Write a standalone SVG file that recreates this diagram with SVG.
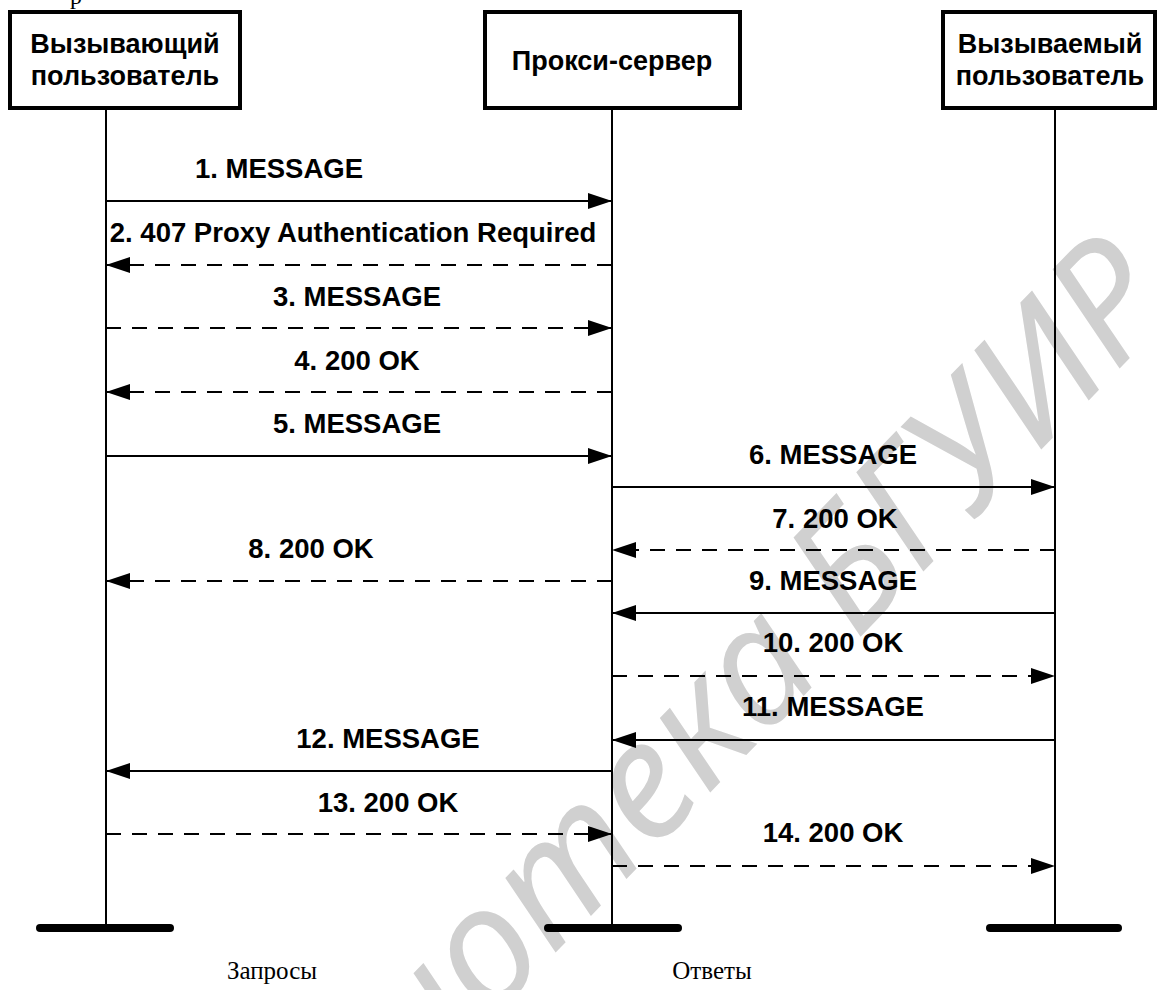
<svg xmlns="http://www.w3.org/2000/svg" width="1161" height="990" viewBox="0 0 1161 990">
<style>
.box{fill:#fff;stroke:#000;stroke-width:4}
.hdr{font-family:"Liberation Sans",Arial,sans-serif;font-weight:bold;font-size:27px;text-anchor:middle;fill:#000}
.lbl{font-family:"Liberation Sans",Arial,sans-serif;font-weight:bold;font-size:27.5px;text-anchor:middle;fill:#000}
.life{stroke:#000;stroke-width:2;fill:none}
.bar{stroke:#000;stroke-width:8;stroke-linecap:round}
.msg{stroke:#000;stroke-width:2;fill:none;marker-end:url(#ah)}
.dash{stroke-dasharray:15 11}
.cap{font-family:"Liberation Serif","Times New Roman",serif;font-size:25px;text-anchor:middle;fill:#000}
.wm{font-family:"Noto Sans","Liberation Sans",sans-serif;font-style:italic;font-size:164px;fill:#d0d0d0;text-anchor:end}
</style>
<defs>
<marker id="ah" viewBox="0 0 24 16" refX="24" refY="8" markerWidth="24" markerHeight="16" orient="auto" markerUnits="userSpaceOnUse">
<path d="M0,0 L24,8 L0,16 Z" fill="#000"/>
</marker>
</defs>
<rect width="1161" height="990" fill="#fff"/>
<g id="watermark">
<text class="wm" transform="translate(1178,308) rotate(-46)">Библиотека БГУИР</text>
</g>
<text x="70" y="4" font-family="Liberation Serif, serif" font-size="24">р</text>
<g id="lifelines">
<line class="life" x1="106" y1="108" x2="106" y2="928"/>
<line class="life" x1="612" y1="108" x2="612" y2="928" stroke-width="2.5"/>
<line class="life" x1="1055" y1="108" x2="1055" y2="928"/>
<line class="bar" x1="40" y1="928" x2="170" y2="928"/>
<line class="bar" x1="548" y1="928" x2="678" y2="928"/>
<line class="bar" x1="990" y1="928" x2="1118" y2="928"/>
</g>
<g id="caller">
<rect class="box" x="10" y="12" width="230" height="96"/>
<text class="hdr" x="125" y="53">Вызывающий</text>
<text class="hdr" x="125" y="85">пользователь</text>
</g>
<g id="proxy">
<rect class="box" x="485" y="12" width="255" height="96"/>
<text class="hdr" x="612" y="70">Прокси-сервер</text>
</g>
<g id="callee">
<rect class="box" x="943" y="12" width="212" height="96"/>
<text class="hdr" x="1050" y="53">Вызываемый</text>
<text class="hdr" x="1050" y="85">пользователь</text>
</g>
<g id="connectors">
<line class="msg" x1="106" y1="201" x2="612" y2="201"/>
<line class="msg dash" x1="612" y1="265" x2="106" y2="265"/>
<line class="msg dash" x1="106" y1="328" x2="612" y2="328"/>
<line class="msg dash" x1="612" y1="392" x2="106" y2="392"/>
<line class="msg" x1="106" y1="456" x2="612" y2="456"/>
<line class="msg" x1="612" y1="487" x2="1055" y2="487"/>
<line class="msg dash" x1="1055" y1="550" x2="612" y2="550"/>
<line class="msg dash" x1="612" y1="581" x2="106" y2="581"/>
<line class="msg" x1="1055" y1="613" x2="612" y2="613"/>
<line class="msg dash" x1="612" y1="676" x2="1055" y2="676"/>
<line class="msg" x1="1055" y1="740" x2="612" y2="740"/>
<line class="msg" x1="612" y1="771" x2="106" y2="771"/>
<line class="msg dash" x1="106" y1="834" x2="612" y2="834"/>
<line class="msg dash" x1="612" y1="866" x2="1055" y2="866"/>
</g>
<g id="labels">
<text class="lbl" x="279" y="178">1. MESSAGE</text>
<text class="lbl" x="353" y="242">2. 407 Proxy Authentication Required</text>
<text class="lbl" x="357" y="306">3. MESSAGE</text>
<text class="lbl" x="357" y="370">4. 200 OK</text>
<text class="lbl" x="357" y="433">5. MESSAGE</text>
<text class="lbl" x="833" y="464">6. MESSAGE</text>
<text class="lbl" x="835" y="528">7. 200 OK</text>
<text class="lbl" x="311" y="558">8. 200 OK</text>
<text class="lbl" x="833" y="590">9. MESSAGE</text>
<text class="lbl" x="833" y="652">10. 200 OK</text>
<text class="lbl" x="833" y="716">11. MESSAGE</text>
<text class="lbl" x="388" y="748">12. MESSAGE</text>
<text class="lbl" x="388" y="812">13. 200 OK</text>
<text class="lbl" x="833" y="842">14. 200 OK</text>
</g>
<text class="cap" x="272" y="979">Запросы</text>
<text class="cap" x="712" y="979">Ответы</text>
</svg>
